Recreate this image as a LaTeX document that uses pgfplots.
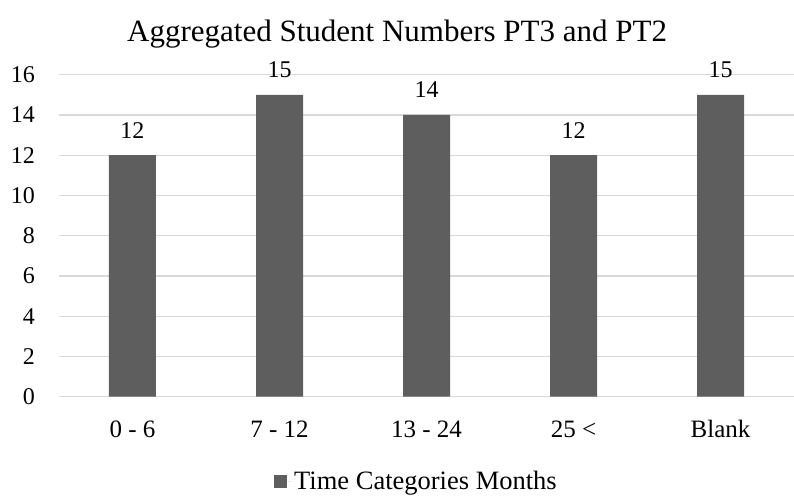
\documentclass[border=0pt]{standalone}
\usepackage{pgfplots}
\pgfplotsset{compat=1.18}
\usepackage{fontspec}
\setmainfont{Liberation Serif}
\definecolor{barc}{HTML}{5E5E5E}
\definecolor{gridc}{HTML}{D9D9D9}
\begin{document}
\begin{tikzpicture}
\useasboundingbox (-59pt,-99.3pt) rectangle (735pt,396.7pt);
\begin{axis}[
  at={(0,0)}, anchor=south west,
  scale only axis, width=735pt, height=322pt,
  xmin=-0.5, xmax=4.5, ymin=0, ymax=16,
  ytick={0,2,...,16},
  xtick={0,1,2,3,4},
  xticklabels={0 - 6, 7 - 12, 13 - 24, 25 <, Blank},
  axis line style={draw=none},
  major tick length=0pt,
  ymajorgrids, grid style={gridc, line width=1.3pt},
  /pgf/number format/assume math mode=true,
  yticklabel style={font=\fontsize{24}{28}\selectfont, anchor=east, inner sep=0pt, xshift=-24pt},
  xticklabel style={font=\fontsize{25}{30}\selectfont, anchor=base, inner sep=0pt, yshift=-40.3pt},
  title={Aggregated Student Numbers PT3 and PT2},
  title style={font=\fontsize{31}{36}\selectfont, at={(0.46,1)}, anchor=base, inner sep=0pt, yshift=27pt},
  legend style={draw=none, fill=none, at={(0.4864,-0.263)}, anchor=center, inner sep=0pt,
    font=\fontsize{26.5}{30}\selectfont,
    legend image code/.code={\fill[barc] (0pt,-6.5pt) rectangle (13pt,6.5pt); \path (0pt,0pt) -- (18pt,0pt);}},
  nodes near coords,
  every node near coord/.append style={font=\fontsize{24}{28}\selectfont, text=black, anchor=base, inner sep=0pt, yshift=17pt},
]
\addplot[ybar, bar width=47pt, fill=barc, draw=none] coordinates {(0,12) (1,15) (2,14) (3,12) (4,15)};
\addlegendentry{Time Categories Months}
\end{axis}
\end{tikzpicture}
\end{document}
